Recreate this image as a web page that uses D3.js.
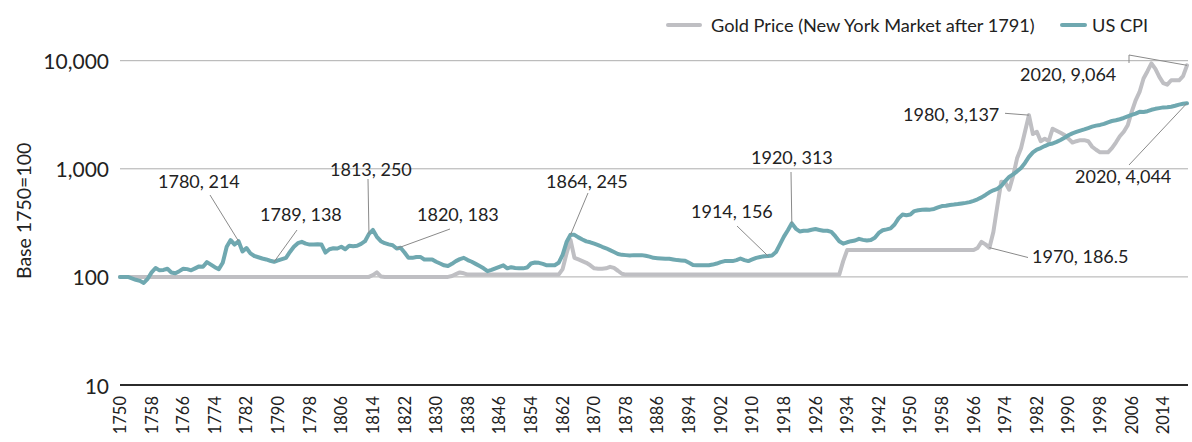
<!DOCTYPE html>
<html><head><meta charset="utf-8">
<script src="https://cdn.jsdelivr.net/npm/d3@7"></script>
<style>
body{margin:0;background:#fff;}
svg text{font-family:Lato, "Open Sans", sans-serif;fill:#222;}
</style>
</head><body>
<svg id="chart" width="1192" height="442"></svg>
<script>
// ---------- data ----------
const firstYear = 1750;
const lastYear = 2020;
const seriesNames = ["Gold Price (New York Market after 1791)", "US CPI"];

// US CPI, base 1750 = 100 (one value per year 1750..2020)
const cpiValues = [
  100,100,100,97,94,92,88,96,110,121,
  115,116,119,110,108,113,119,118,115,120,
  125,124,137,130,123,118,135,190,219,199,
  214,172,185,165,156,152,148,145,141,138,
  142,146,150,170,190,205,211,203,199,199,
  200,199,168,180,184,183,190,180,194,192,
  194,202,214,250,272,235,214,205,200,196,
  183,186,168,150,150,153,153,145,145,145,
  138,133,128,126,132,140,146,150,143,138,
  132,126,120,113,116,120,124,128,120,123,
  121,120,120,122,133,136,135,132,128,128,
  128,135,160,210,245,245,232,222,213,209,
  203,197,190,184,177,170,163,160,159,158,
  159,159,159,157,154,150,149,148,147,147,
  145,143,142,141,135,129,128,128,128,128,
  130,133,137,140,140,140,143,148,143,140,
  145,150,153,155,156,158,170,200,236,270,
  313,280,263,267,267,273,277,272,267,267,
  261,238,214,203,209,214,217,225,220,217,
  219,230,255,270,275,281,305,348,377,372,
  377,406,414,417,420,419,425,439,452,455,
  463,467,472,478,484,492,506,522,544,573,
  606,633,653,694,770,841,889,947,1019,1134,
  1288,1420,1508,1556,1623,1681,1713,1775,1848,1938,
  2042,2128,2192,2258,2316,2381,2452,2508,2547,2603,
  2691,2767,2811,2875,2952,3052,3150,3239,3364,3352,
  3408,3514,3588,3641,3698,3703,3750,3830,3923,3995,
  4044
];

// Gold price, base 1750 = 100 (one value per year 1750..2020)
const goldValues = [
  100,100,100,100,100,100,100,100,100,100,
  100,100,100,100,100,100,100,100,100,100,
  100,100,100,100,100,100,100,100,100,100,
  100,100,100,100,100,100,100,100,100,100,
  100,100,100,100,100,100,100,100,100,100,
  100,100,100,100,100,100,100,100,100,100,
  100,100,100,100,104,110,101,100,100,100,
  100,100,100,100,100,100,100,100,100,100,
  100,100,100,100,102,106,110,108,105,105,
  105,105,105,105,105,105,105,105,105,105,
  105,105,105,105,105,105,105,105,105,105,
  105,105,118,165,220,150,145,140,135,128,
  120,119,119,120,124,121,114,107,105,105,
  105,105,105,105,105,105,105,105,105,105,
  105,105,105,105,105,105,105,105,105,105,
  105,105,105,105,105,105,105,105,105,105,
  105,105,105,105,105,105,105,105,105,105,
  105,105,105,105,105,105,105,105,105,105,
  105,105,105,140,177,177,177,177,177,177,
  177,177,177,177,177,177,177,177,177,177,
  177,177,177,177,177,177,177,177,177,177,
  177,177,177,177,177,177,177,185,211,200,
  186.5,260,450,760,750,640,860,1250,1550,2200,
  3137,2100,2200,1800,1900,1800,2350,2250,2150,2050,
  1900,1750,1800,1840,1840,1800,1600,1500,1420,1420,
  1420,1550,1750,2000,2200,2530,3360,4300,5140,6850,
  8000,9430,8400,7090,6200,6000,6590,6590,6590,7200,
  9064
];

const yTickValues = [10, 100, 1000, 10000];
const xTickYears = d3.range(1750, 2015, 8);
const yAxisTitle = "Base 1750=100";

// annotation labels: text, year, value
const annotationTexts = ["1780, 214","1789, 138","1813, 250","1820, 183","1864, 245","1914, 156","1920, 313","1980, 3,137","1970, 186.5","2020, 9,064","2020, 4,044"];
const annotationYears = [1780,1789,1813,1820,1864,1914,1920,1980,1970,2020,2020];
const annotationValues = [214,138,250,183,245,156,313,3137,186.5,9064,4044];

// ---------- layout ----------
const plotLeft = 120, plotRight = 1187, gridRight = 1188;
const yTop = 60.7, yBottom = 385;
const colors = {gold:"#bfbfc3", cpi:"#6fa8b0", grid:"#adadad", axis:"#2b2b2b", leader:"#8a8a8a"};

// label placement (text anchor point + leader polyline start points in px)
const annotationLayout = [
  {tx:158, ty:188, pts:[[210,195]]},
  {tx:260, ty:221, pts:[[297,230]]},
  {tx:330, ty:176, pts:[[368,179]]},
  {tx:417, ty:221, pts:[[450,229]]},
  {tx:546, ty:188, pts:[[588,193]]},
  {tx:691, ty:218, pts:[[737,226]]},
  {tx:751, ty:164, pts:[[791,172]]},
  {tx:903, ty:121, pts:[[1005,113.3]]},
  {tx:1032, ty:263, pts:[[1028,257.5]]},
  {tx:1020, ty:81, pts:[[1129,63],[1129,55]]},
  {tx:1075, ty:183, pts:[[1129,165]]}
];

const years = d3.range(firstYear, lastYear + 1);
const x = d3.scaleLinear().domain([firstYear, lastYear]).range([plotLeft, plotRight]);
const y = d3.scaleLog().domain([10, 10000]).range([yBottom, yTop]);

const svg = d3.select("#chart");

// gridlines
svg.append("g").selectAll("line").data(yTickValues.filter(d => d > 10)).join("line")
  .attr("x1", plotLeft).attr("x2", gridRight)
  .attr("y1", d => y(d)).attr("y2", d => y(d))
  .attr("stroke", colors.grid).attr("stroke-width", 1);

// y tick labels
svg.append("g").selectAll("text").data(yTickValues).join("text")
  .attr("x", 109).attr("y", d => y(d))
  .attr("text-anchor", "end").attr("dominant-baseline", "central")
  .attr("font-size", 21)
  .text(d => d3.format(",")(d));

// y axis title
svg.append("text")
  .attr("transform", `translate(23,${(yTop + yBottom) / 2 - 12}) rotate(-90)`)
  .attr("text-anchor", "middle").attr("dominant-baseline", "central")
  .attr("font-size", 19.5)
  .text(yAxisTitle);

// x tick labels
svg.append("g").selectAll("text").data(xTickYears).join("text")
  .attr("transform", d => `translate(${x(d)},396) rotate(-90)`)
  .attr("text-anchor", "end").attr("dominant-baseline", "central")
  .attr("font-size", 16.5)
  .text(d => d);

// lines
const line = d3.line().x(d => x(d[0])).y(d => y(d[1])).curve(d3.curveLinear);
const goldData = years.map((yr, i) => [yr, goldValues[i]]);
const cpiData = years.map((yr, i) => [yr, cpiValues[i]]);

svg.append("path").datum(goldData).attr("d", line)
  .attr("fill", "none").attr("stroke", colors.gold).attr("stroke-width", 4)
  .attr("stroke-linejoin", "round").attr("stroke-linecap", "round");
svg.append("path").datum(cpiData).attr("d", line)
  .attr("fill", "none").attr("stroke", colors.cpi).attr("stroke-width", 4)
  .attr("stroke-linejoin", "round").attr("stroke-linecap", "round");

// baseline axis at 10
svg.append("line")
  .attr("x1", plotLeft).attr("x2", gridRight)
  .attr("y1", y(10)).attr("y2", y(10))
  .attr("stroke", colors.axis).attr("stroke-width", 2.2);

// annotations
const ann = svg.append("g");
annotationTexts.forEach((t, i) => {
  const L = annotationLayout[i];
  const pts = L.pts.concat([[x(annotationYears[i]), y(annotationValues[i])]]);
  ann.append("path")
    .attr("d", d3.line()(pts))
    .attr("fill", "none").attr("stroke", colors.leader).attr("stroke-width", 1);
  ann.append("text")
    .attr("x", L.tx).attr("y", L.ty)
    .attr("font-size", 18)
    .text(t);
});

// legend
const legend = svg.append("g");
const legendItems = [
  {name: seriesNames[0], color: colors.gold, x1: 668, x2: 700, tx: 711},
  {name: seriesNames[1], color: colors.cpi, x1: 1062, x2: 1085, tx: 1092}
];
legendItems.forEach(it => {
  legend.append("line").attr("x1", it.x1).attr("x2", it.x2).attr("y1", 25).attr("y2", 25)
    .attr("stroke", it.color).attr("stroke-width", 4).attr("stroke-linecap", "round");
  legend.append("text").attr("x", it.tx).attr("y", 25)
    .attr("dominant-baseline", "central").attr("font-size", 18.2)
    .text(it.name);
});
</script>
</body></html>
